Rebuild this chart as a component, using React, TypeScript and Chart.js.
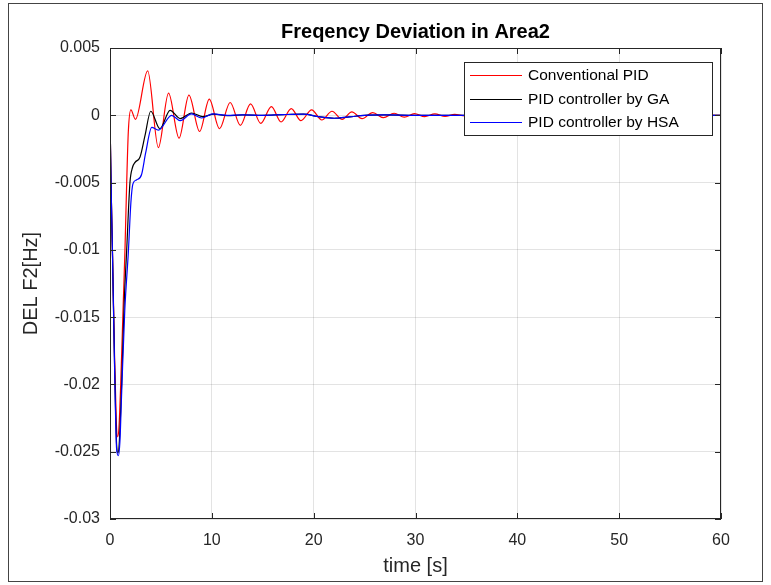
import React, { useEffect, useRef } from "react";
import { Chart, registerables } from "chart.js";

Chart.register(...registerables);

const chartTitle = "Freqency Deviation in Area2";
const xAxisLabel = "time [s]";
const yAxisLabel = "DEL F2[Hz]";
const xTicks = [0, 10, 20, 30, 40, 50, 60];
const yTicks = [0.005, 0, -0.005, -0.01, -0.015, -0.02, -0.025, -0.03];

const seriesNames = ["Conventional PID", "PID controller by GA", "PID controller by HSA"];
const seriesColors = ["#ff0000", "#000000", "#0000ff"];

// Conventional PID
const pidT = [0, 0.1, 0.25, 0.45, 0.62, 0.75, 0.88, 1.05, 1.3, 1.47, 1.64, 1.8, 2.05, 2.5, 3.7, 4.75, 5.75, 6.78, 7.75, 8.8, 9.75, 10.75, 11.8, 12.8, 13.8, 14.8, 15.85, 16.8, 17.8, 18.75, 19.8, 20.8, 21.8, 22.8, 23.75, 24.75, 25.8, 26.85, 27.9, 28.9, 29.9, 30.9, 31.9, 32.9, 33.85, 34.85, 35.8, 37, 40, 45, 50, 55, 60];
const pidV = [0, -0.005, -0.0105, -0.018, -0.0228, -0.0239, -0.0232, -0.02, -0.014, -0.01, -0.005, -0.0012, 0.0004, -0.0003, 0.0033, -0.0024, 0.00165, -0.0017, 0.0015, -0.0012, 0.0012, -0.001, 0.00095, -0.00075, 0.00085, -0.0006, 0.00065, -0.0005, 0.0005, -0.0004, 0.0004, -0.00035, 0.0003, -0.0003, 0.00025, -0.00025, 0.0002, -0.00018, 0.00015, -0.00014, 0.00012, -0.0001, 0.0001, -0.00008, 0.00007, -0.00005, 0.00004, 0, 0, 0, 0, 0, 0];

// PID controller by GA
const gaT = [0, 0.1, 0.25, 0.45, 0.65, 0.78, 0.92, 1.15, 1.4, 1.64, 1.96, 2.2, 2.46, 2.95, 3.44, 4.0, 4.9, 5.9, 6.9, 8.0, 9.1, 10.2, 11.5, 13, 15, 17, 19, 20.5, 22, 23.5, 25, 27, 30, 35, 40, 50, 60];
const gaV = [0, -0.005, -0.0105, -0.0185, -0.0245, -0.0251, -0.0242, -0.0198, -0.0138, -0.01, -0.005, -0.0039, -0.0035, -0.0031, -0.0015, 0.0003, -0.001, 0.00037, -0.00025, 0.00017, -0.0001, 0.00008, -0.00003, 0.00003, 0, 0.00005, 0.00008, -0.0001, -0.00022, -0.00012, 0, 0.00003, 0, 0, 0, 0, 0];

// PID controller by HSA
const hsaT = [0, 0.1, 0.25, 0.45, 0.65, 0.82, 0.97, 1.15, 1.45, 1.8, 2.05, 2.25, 2.6, 3.1, 3.5, 4.1, 4.75, 6.05, 6.9, 8.0, 9.0, 10.1, 11.5, 13, 15, 17, 19, 20.5, 22, 23.5, 25, 27, 30, 35, 40, 50, 60];
const hsaV = [0, -0.005, -0.0105, -0.0188, -0.0248, -0.0253, -0.0243, -0.0205, -0.0145, -0.0102, -0.0065, -0.0051, -0.0048, -0.0044, -0.0028, -0.0009, -0.0011, 0, -0.0004, 0.0001, -0.0002, 0.0001, 0, 0.00003, 0, 0.00005, 0.00008, -0.0001, -0.00022, -0.00012, 0, 0.00003, 0, 0, 0, 0, 0];

const seriesT = [pidT, gaT, hsaT];
const seriesV = [pidV, gaV, hsaV];

const FONT = "'Liberation Sans', Arial, Helvetica, sans-serif";
const AXIS_COLOR = "#262626";

const decorPlugin = {
  id: "decor",
  afterDraw(chart: any) {
    const { ctx, chartArea: a, scales } = chart;
    ctx.save();
    // frame
    ctx.strokeStyle = AXIS_COLOR;
    ctx.lineWidth = 1;
    ctx.strokeRect(a.left + 0.5, a.top + 0.5, a.right - a.left - 1, a.bottom - a.top - 1);
    // inward tick marks
    const tl = 6;
    ctx.beginPath();
    xTicks.forEach((v) => {
      const x = Math.round(scales.x.getPixelForValue(v)) + 0.5;
      ctx.moveTo(x, a.bottom);
      ctx.lineTo(x, a.bottom - tl);
      ctx.moveTo(x, a.top);
      ctx.lineTo(x, a.top + tl);
    });
    yTicks.forEach((v) => {
      const y = Math.round(scales.y.getPixelForValue(v)) + 0.5;
      ctx.moveTo(a.left, y);
      ctx.lineTo(a.left + tl, y);
      ctx.moveTo(a.right, y);
      ctx.lineTo(a.right - tl, y);
    });
    ctx.stroke();

    // title
    ctx.fillStyle = "#000";
    ctx.font = `bold 20px ${FONT}`;
    ctx.textAlign = "center";
    ctx.textBaseline = "middle";
    ctx.fillText(chartTitle, (a.left + a.right) / 2, 32);

    // axis labels
    ctx.fillStyle = AXIS_COLOR;
    ctx.font = `20px ${FONT}`;
    ctx.fillText(xAxisLabel, (a.left + a.right) / 2, 566);
    ctx.save();
    ctx.translate(31, (a.top + a.bottom) / 2);
    ctx.rotate(-Math.PI / 2);
    ctx.fillText(yAxisLabel, 0, 0);
    ctx.restore();

    // legend
    const boxRight = a.right - 9;
    const boxLeft = boxRight - 248;
    const boxTop = a.top + 14;
    const rowH = 23.5;
    const boxBottom = boxTop + 13 + rowH * (seriesNames.length - 1) + 13;
    ctx.fillStyle = "#ffffff";
    ctx.fillRect(boxLeft, boxTop, boxRight - boxLeft, boxBottom - boxTop);
    ctx.strokeStyle = AXIS_COLOR;
    ctx.strokeRect(boxLeft + 0.5, boxTop + 0.5, boxRight - boxLeft, boxBottom - boxTop);
    ctx.font = `15.5px ${FONT}`;
    ctx.textAlign = "left";
    seriesNames.forEach((name, i) => {
      const y = boxTop + 13 + i * rowH;
      ctx.strokeStyle = seriesColors[i];
      ctx.lineWidth = 1.2;
      ctx.beginPath();
      ctx.moveTo(boxLeft + 6, Math.round(y) + 0.5);
      ctx.lineTo(boxLeft + 58, Math.round(y) + 0.5);
      ctx.stroke();
      ctx.fillStyle = "#000";
      ctx.fillText(name, boxLeft + 64, y + 1);
    });
    ctx.restore();
  },
};

export default function App() {
  const canvasRef = useRef<HTMLCanvasElement | null>(null);

  useEffect(() => {
    const canvas = canvasRef.current;
    if (!canvas) return;
    const datasets = seriesNames.map((name, i) => ({
      label: name,
      data: seriesT[i].map((t, j) => ({ x: t, y: seriesV[i][j] })),
      borderColor: seriesColors[i],
      backgroundColor: seriesColors[i],
      borderWidth: 1.2,
      pointRadius: 0,
      fill: false,
      cubicInterpolationMode: "monotone" as const,
      order: seriesNames.length - i,
    }));
    const chart = new Chart(canvas, {
      type: "line",
      data: { datasets },
      options: {
        animation: false,
        responsive: false,
        devicePixelRatio: 1,
        layout: { padding: { top: 48, right: 50, left: 0, bottom: 0 } },
        plugins: {
          legend: { display: false },
          title: { display: false },
          tooltip: { enabled: false },
        },
        scales: {
          x: {
            type: "linear",
            min: 0,
            max: 60,
            afterFit: (s: any) => {
              s.height = 66;
            },
            afterBuildTicks: (s: any) => {
              s.ticks = xTicks.map((v) => ({ value: v }));
            },
            ticks: {
              color: AXIS_COLOR,
              font: { size: 16, family: FONT },
              padding: 12,
              maxRotation: 0,
              callback: (v: any) => String(v),
            },
            grid: { color: "rgba(38,38,38,0.13)", drawTicks: false },
            border: { display: false },
          },
          y: {
            type: "linear",
            min: -0.03,
            max: 0.005,
            afterFit: (s: any) => {
              s.width = 110;
            },
            afterBuildTicks: (s: any) => {
              s.ticks = yTicks.map((v) => ({ value: v }));
            },
            ticks: {
              color: AXIS_COLOR,
              font: { size: 16, family: FONT },
              padding: 10,
              callback: (v: any) => String(v),
            },
            grid: { color: "rgba(38,38,38,0.13)", drawTicks: false },
            border: { display: false },
          },
        },
      },
      plugins: [decorPlugin],
    });
    return () => chart.destroy();
  }, []);

  return (
    <div style={{ position: "absolute", left: 0, top: 0, width: 771, height: 585, background: "#fff" }}>
      <canvas ref={canvasRef} width={771} height={585} style={{ display: "block", width: 771, height: 585 }} />
      <div
        style={{
          position: "absolute",
          left: 8,
          top: 3,
          width: 755,
          height: 579,
          border: "1px solid #444",
          boxSizing: "border-box",
          pointerEvents: "none",
        }}
      />
    </div>
  );
}
